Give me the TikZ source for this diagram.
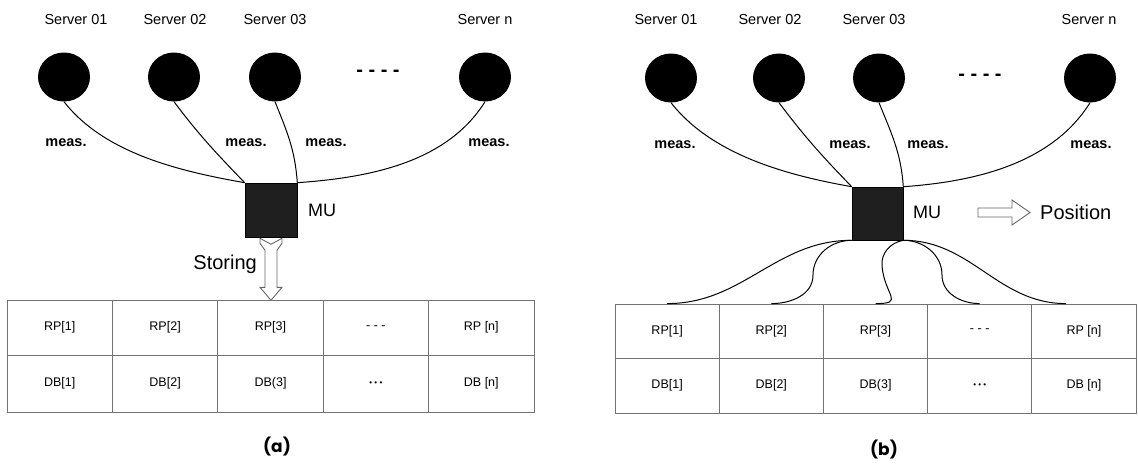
\documentclass[tikz,border=0pt]{standalone}
\usepackage{fontspec}
\setmainfont{Liberation Sans}
\newfontfamily\capfont{Poppins}
\usetikzlibrary{shapes.geometric,calc}
\begin{document}
\begin{tikzpicture}[x=1pt,y=1pt,
  srv/.style={ellipse, fill=black, minimum width=52pt, minimum height=49pt, inner sep=0pt},
  slabel/.style={font=\fontsize{14.5}{16}\selectfont, inner sep=0pt},
  meas/.style={font=\fontsize{14.5}{16}\selectfont\bfseries, inner sep=0pt},
  mubox/.style={rectangle, fill=black!88, draw=black, line width=0.6pt, inner sep=0pt},
  mulabel/.style={font=\fontsize{18}{20}\selectfont, inner sep=0pt},
  biglabel/.style={font=\fontsize{20}{22}\selectfont, inner sep=0pt},
  cell/.style={rectangle, draw=black!55, line width=0.8pt, font=\fontsize{12.5}{14}\selectfont, inner sep=0pt},
  wire/.style={line width=1pt, black},
  hollow/.style={draw=black!60, line width=0.9pt, fill=white, line join=miter},
  dotsgap/.style={font=\fontsize{20}{22}\selectfont\bfseries, inner sep=0pt},
  caption/.style={font=\capfont\bfseries\fontsize{17}{19}\selectfont, inner sep=0pt}
]
\fill[white] (0,0) rectangle (1138,-466);
\useasboundingbox (0,0) rectangle (1138,-466);

% ================= (a) =================
\node[slabel] (la1) at (76,-20) {Server 01};
\node[slabel] (la2) at (175,-20) {Server 02};
\node[slabel] (la3) at (275,-20) {Server 03};
\node[slabel] (la4) at (485,-20) {Server n};

\node[srv] (ls1) at (64,-77) {};
\node[srv] (ls2) at (174,-77) {};
\node[srv] (ls3) at (275,-77) {};
\node[srv] (ls4) at (485,-77) {};
\node[dotsgap] (ldots) at (378,-73) {- - - -};

\node[mubox, minimum width=52pt, minimum height=54pt] (lmu) at (271,-210) {};
\node[mulabel, anchor=west] (lmul) at (308,-210) {MU};

\node[meas] (lm1) at (66,-143) {meas.};
\node[meas] (lm2) at (246,-143) {meas.};
\node[meas] (lm3) at (326,-143) {meas.};
\node[meas] (lm4) at (489,-143) {meas.};

\draw[wire] (ls1.south) to[out=-52,in=170,looseness=0.85] (lmu.north west);
\draw[wire] (ls2.south) to[out=-53,in=134] (lmu.north west);
\draw[wire] (ls3.south) to[out=-68,in=94] (lmu.north east);
\draw[wire] (ls4.south) to[out=-122,in=4,looseness=0.9] (lmu.north east);

\foreach \t/\b [count=\k] in {RP[1]/DB[1], RP[2]/DB[2], RP[3]/DB(3], - - -/{\fontsize{8}{9}\selectfont • • •}, RP [n]/DB [n]} {
  \node[cell, minimum width=105.4pt, minimum height=55pt] (aR\k) at ({7+105.4*(\k-0.5)},-327.5) {\t};
  \node[cell, minimum width=105.4pt, minimum height=57pt] (aD\k) at ({7+105.4*(\k-0.5)},-383.5) {\b};
}

\begin{scope}[shift={(lmu.south)}]
  \draw[hollow] (-11,-1) -- (0,-7) -- (11,-1) -- (11,-6) -- (6,-13) -- (6,-50) -- (11,-50)
    -- (0,-63) -- (-11,-50) -- (-6,-50) -- (-6,-13) -- (-11,-6) -- cycle;
\end{scope}
\node[biglabel, anchor=east] (stor) at (257,-264) {Storing};

\node[caption] (capa) at (277,-447) {(a)};

% ================= (b) =================
\node[slabel] (ra1) at (666,-20) {Server 01};
\node[slabel] (ra2) at (770,-20) {Server 02};
\node[slabel] (ra3) at (874,-20) {Server 03};
\node[slabel] (ra4) at (1089,-20) {Server n};

\node[srv] (rs1) at (671,-78) {};
\node[srv] (rs2) at (779,-78) {};
\node[srv] (rs3) at (879,-78) {};
\node[srv] (rs4) at (1090,-78) {};
\node[dotsgap] (rdots) at (980,-77) {- - - -};

\node[mubox, minimum width=51pt, minimum height=53pt] (rmu) at (877.5,-213.5) {};
\node[mulabel, anchor=west] (rmul) at (913,-212) {MU};

\node[meas] (rm1) at (675,-145) {meas.};
\node[meas] (rm2) at (850,-145) {meas.};
\node[meas] (rm3) at (928,-145) {meas.};
\node[meas] (rm4) at (1091,-145) {meas.};

\draw[wire] (rs1.south) to[out=-52,in=170,looseness=0.85] (rmu.north west);
\draw[wire] (rs2.south) to[out=-53,in=134] (rmu.north west);
\draw[wire] (rs3.south) to[out=-68,in=94] (rmu.north east);
\draw[wire] (rs4.south) to[out=-122,in=4,looseness=0.9] (rmu.north east);

\draw[hollow] (978,-208) -- (1012,-208) -- (1012,-200) -- (1030,-212.5) -- (1012,-225)
  -- (1012,-217) -- (978,-217) -- cycle;
\node[biglabel, anchor=west] (pos) at (1040,-212) {Position};

\foreach \t/\b [count=\k] in {RP[1]/DB[1], RP[2]/DB[2], RP[3]/DB(3], - - -/{\fontsize{8}{9}\selectfont • • •}, RP [n]/DB [n]} {
  \node[cell, minimum width=104.2pt, minimum height=54pt] (bR\k) at ({615+104.2*(\k-0.5)},-331) {\t};
  \node[cell, minimum width=104.2pt, minimum height=55pt] (bD\k) at ({615+104.2*(\k-0.5)},-385.5) {\b};
}

\coordinate (bB) at (813,-275);
\coordinate (bC) at (882,-266);
\coordinate (bDD) at (942,-275);
\coordinate (bE) at ($(bR5.north)+(-18,0)$);
\draw[wire] (rmu.south west) to[out=180,in=0] (bR1.north);
\draw[wire] (rmu.south west) to[out=180,in=90] (bB) to[out=-90,in=0] (bR2.north);
\draw[wire] (rmu.south east) to[out=190,in=95] (bC) to[out=-85,in=0,looseness=2] (bR3.north);
\draw[wire] (rmu.south east) to[out=0,in=90] (bDD) to[out=-90,in=180] (bR4.north);
\draw[wire] (rmu.south east) to[out=0,in=180] (bE);

\node[caption] (capb) at (884,-450) {(b)};
\end{tikzpicture}
\end{document}
